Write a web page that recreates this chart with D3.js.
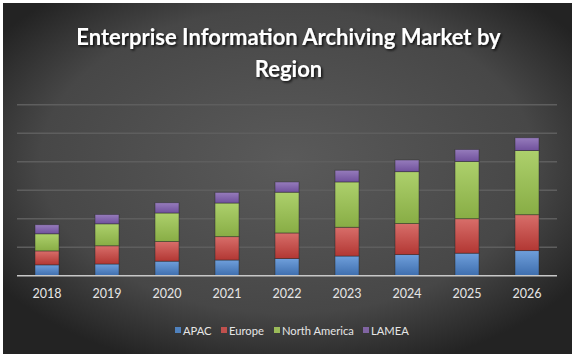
<!DOCTYPE html>
<html><head><meta charset="utf-8">
<script src="https://cdn.jsdelivr.net/npm/d3@7"></script>
<style>html,body{margin:0;padding:0;background:#fff;}svg{display:block;}</style>
</head><body>
<svg id="c" width="577" height="359"></svg>
<script>
const years = ["2018","2019","2020","2021","2022","2023","2024","2025","2026"];
const seriesNames = ["APAC","Europe","North America","LAMEA"];
const apac = [3.8, 4.1, 5.1, 5.5, 6.0, 6.9, 7.4, 7.9, 8.8];
const europe = [4.9, 6.4, 6.9, 8.2, 9.0, 10.1, 10.9, 12.1, 12.6];
const northAmerica = [6.0, 7.7, 10.0, 11.8, 14.3, 15.9, 18.2, 20.1, 22.5];
const lamea = [3.2, 3.3, 3.6, 3.75, 3.6, 4.1, 4.1, 4.2, 4.5];
const gridTicks = [10, 20, 30, 40, 50, 60];
const colors = [["#6f9fdb","#3e6eae"],["#d86e6a","#b23733"],["#add06c","#88ad45"],["#967cbc","#70519c"]];
const legendColors = ["#4f81bd","#c0504d","#9bbb59","#8064a2"];

const svg = d3.select("#c");
const defs = svg.append("defs");
const bg = defs.append("radialGradient").attr("id","bg").attr("cx","50%").attr("cy","45%").attr("r","62%");
bg.append("stop").attr("offset","0%").attr("stop-color","#5a5a5a");
bg.append("stop").attr("offset","70%").attr("stop-color","#474747");
bg.append("stop").attr("offset","100%").attr("stop-color","#232323");
colors.forEach((c,i)=>{
  const g = defs.append("linearGradient").attr("id","g"+i).attr("x1",0).attr("y1",0).attr("x2",0).attr("y2",1);
  g.append("stop").attr("offset","0%").attr("stop-color",c[0]);
  g.append("stop").attr("offset","100%").attr("stop-color",c[1]);
});
const f = defs.append("filter").attr("id","ts").attr("x","-10%").attr("y","-30%").attr("width","120%").attr("height","160%");
f.append("feDropShadow").attr("dx",1.5).attr("dy",1.5).attr("stdDeviation",1).attr("flood-color","#000").attr("flood-opacity",0.8);

svg.append("rect").attr("x",3).attr("y",3).attr("width",569).attr("height",351).attr("fill","url(#bg)");

const x = d3.scaleBand().domain(years).range([17,557]).paddingInner(0.6).paddingOuter(0.3);
const y = d3.scaleLinear().domain([0,60]).range([275.7,104.7]);

svg.append("g").selectAll("line").data(gridTicks).join("line")
  .attr("x1",17).attr("x2",557).attr("y1",d=>y(d)).attr("y2",d=>y(d))
  .attr("stroke","#5e5e5e").attr("stroke-width",1.5);

const data = years.map((yr,i)=>({year:yr, APAC:apac[i], Europe:europe[i], "North America":northAmerica[i], LAMEA:lamea[i]}));
const stack = d3.stack().keys(seriesNames)(data);
stack.forEach((s,si)=>{
  svg.append("g").selectAll("rect").data(s).join("rect")
    .attr("x",d=>x(d.data.year)).attr("width",x.bandwidth())
    .attr("y",d=>y(d[1])).attr("height",d=>y(d[0])-y(d[1]))
    .attr("fill","url(#g"+si+")")
    .attr("stroke","rgba(40,40,40,0.55)").attr("stroke-width",0.8);
});

const xAxis = svg.append("g").attr("transform","translate(0,275.7)")
  .call(d3.axisBottom(x).tickSize(0).tickPadding(13));
xAxis.select(".domain").attr("stroke","#c8c8c8").attr("stroke-width",1.5).attr("d","M17,0H557");
xAxis.selectAll("text").attr("fill","#e6e6e6").attr("font-family","Lato, 'Open Sans', sans-serif").attr("font-size",12.5);

const title = svg.append("text").attr("text-anchor","middle").attr("fill","#fff")
  .attr("font-family","Lato, 'Open Sans', sans-serif").attr("font-weight","bold").attr("font-size",22)
  .attr("filter","url(#ts)");
title.append("tspan").attr("x",288.5).attr("y",45).text("Enterprise Information Archiving Market by");
title.append("tspan").attr("x",288.5).attr("y",77).text("Region");

const legendX = [175, 221, 274, 363];
const lg = svg.append("g");
seriesNames.forEach((n,i)=>{
  lg.append("rect").attr("x",legendX[i]).attr("y",327).attr("width",6).attr("height",6).attr("fill",legendColors[i]);
  lg.append("text").attr("x",legendX[i]+8).attr("y",334.5).attr("fill","#e6e6e6")
    .attr("font-family","Lato, 'Open Sans', sans-serif").attr("font-size",11.2).text(n);
});
</script>
</body></html>
